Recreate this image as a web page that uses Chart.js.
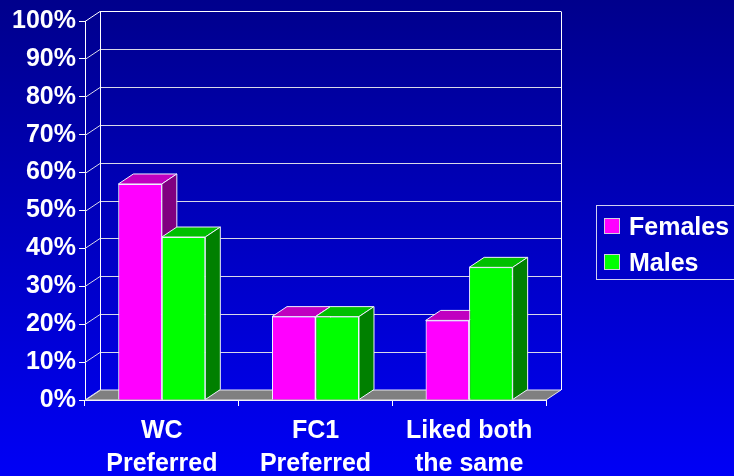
<!DOCTYPE html>
<html>
<head>
<meta charset="utf-8">
<script src="https://cdn.jsdelivr.net/npm/chart.js@4.4.0/dist/chart.umd.min.js"></script>
<style>
  html, body { margin: 0; padding: 0; }
  body {
    width: 734px; height: 476px; overflow: hidden;
    background: linear-gradient(to bottom, #00008c, #0000f6);
  }
</style>
</head>
<body>
<canvas id="grafico" width="734" height="476"></canvas>
<script>
const categorias = [["WC", "Preferred"], ["FC1", "Preferred"], ["Liked both", "the same"]];
const femeas = [57, 22, 21];
const machos = [43, 22, 35];
const serieNomes = ["Females", "Males"];

// profundidade do efeito 3D
const DX = 15, DY = -10;
const FONTE = "'Liberation Sans', Arial, sans-serif";

const cores = [
  { frente: "#ff00ff", topo: "#c000c0", lado: "#800080" },
  { frente: "#00ff00", topo: "#00c000", lado: "#008000" }
];

const cena3d = {
  id: "cena3d",
  beforeDatasetsDraw(chart) {
    const { ctx, chartArea: a } = chart;
    const y = chart.scales.y;
    ctx.save();
    ctx.lineWidth = 1;

    // chao
    ctx.beginPath();
    ctx.moveTo(a.left, a.bottom);
    ctx.lineTo(a.right, a.bottom);
    ctx.lineTo(a.right + DX, a.bottom + DY);
    ctx.lineTo(a.left + DX, a.bottom + DY);
    ctx.closePath();
    ctx.fillStyle = "#808080";
    ctx.fill();
    ctx.strokeStyle = "#e8e8f0";
    ctx.stroke();

    // grade da parede de fundo + diagonais da parede lateral
    y.ticks.forEach(t => {
      const py = Math.round(y.getPixelForValue(t.value)) + 0.5;
      ctx.strokeStyle = t.value === 100 ? "#ffffff" : "#d8d8e8";
      ctx.beginPath();
      if (t.value > 0) {
        ctx.moveTo(a.left + DX, py + DY);
        ctx.lineTo(a.right + DX, py + DY);
      }
      ctx.moveTo(a.left, py);
      ctx.lineTo(a.left + DX, py + DY);
      ctx.stroke();
    });

    const pTop = Math.round(y.getPixelForValue(100)) + 0.5 + DY;
    const pBot = Math.round(a.bottom) + DY;
    ctx.strokeStyle = "#ffffff";
    ctx.beginPath();
    ctx.moveTo(a.left + DX + 0.5, pTop);
    ctx.lineTo(a.left + DX + 0.5, pBot);
    ctx.moveTo(a.right + DX + 0.5, pTop);
    ctx.lineTo(a.right + DX + 0.5, pBot);
    ctx.stroke();
    ctx.restore();
  },
  afterDatasetsDraw(chart) {
    // redesenha as frentes na ordem certa e acrescenta topo e lado
    const { ctx } = chart;
    chart.data.datasets.forEach((ds, i) => {
      const c = cores[i];
      chart.getDatasetMeta(i).data.forEach(el => {
        el.draw(ctx, chart.chartArea);
        const l = el.x - el.width / 2, r = el.x + el.width / 2;
        const t = el.y, b = el.base;
        ctx.save();
        ctx.lineWidth = 1;
        ctx.strokeStyle = "#f0f0ff";
        // topo
        ctx.beginPath();
        ctx.moveTo(l, t);
        ctx.lineTo(r, t);
        ctx.lineTo(r + DX, t + DY);
        ctx.lineTo(l + DX, t + DY);
        ctx.closePath();
        ctx.fillStyle = c.topo;
        ctx.fill();
        ctx.stroke();
        // lado
        ctx.beginPath();
        ctx.moveTo(r, t);
        ctx.lineTo(r + DX, t + DY);
        ctx.lineTo(r + DX, b + DY);
        ctx.lineTo(r, b);
        ctx.closePath();
        ctx.fillStyle = c.lado;
        ctx.fill();
        ctx.stroke();
        ctx.restore();
      });
    });
  },
  afterDraw(chart) {
    // legenda com moldura
    const { ctx } = chart;
    ctx.save();
    ctx.strokeStyle = "#d0d0f0";
    ctx.lineWidth = 1;
    ctx.strokeRect(596.5, 205.5, 160, 74);
    ctx.font = "bold 25px " + FONTE;
    ctx.textBaseline = "alphabetic";
    chart.data.datasets.forEach((ds, i) => {
      const yy = 218 + i * 36;
      ctx.fillStyle = ds.backgroundColor;
      ctx.fillRect(604, yy, 16, 16);
      ctx.strokeStyle = "#d0d0e0";
      ctx.strokeRect(604.5, yy + 0.5, 15, 15);
      ctx.fillStyle = "#ffffff";
      ctx.fillText(ds.label, 629, yy + 17);
    });
    ctx.restore();
  }
};

new Chart(document.getElementById("grafico"), {
  type: "bar",
  data: {
    labels: categorias,
    datasets: [
      { label: serieNomes[0], data: femeas, backgroundColor: cores[0].frente, borderColor: "#f0f0ff", borderWidth: 1 },
      { label: serieNomes[1], data: machos, backgroundColor: cores[1].frente, borderColor: "#f0f0ff", borderWidth: 1 }
    ]
  },
  options: {
    responsive: false,
    animation: false,
    events: [],
    layout: { padding: { top: 21, right: 188, left: 0, bottom: 0 } },
    datasets: { bar: { categoryPercentage: 0.566, barPercentage: 1.0 } },
    plugins: { legend: { display: false }, tooltip: { enabled: false } },
    scales: {
      x: {
        grid: { drawOnChartArea: false, tickLength: 6, color: "#ffffff", offset: true },
        border: { color: "#ffffff", width: 1 },
        ticks: {
          color: "#ffffff", padding: 9, maxRotation: 0, autoSkip: false,
          font: { family: FONTE, size: 25, weight: "bold", lineHeight: 1.3 }
        },
        afterFit: s => { s.height = 76; }
      },
      y: {
        min: 0, max: 100,
        grid: { drawOnChartArea: false, tickLength: 6, color: "#ffffff" },
        border: { color: "#ffffff", width: 1 },
        ticks: {
          stepSize: 10, color: "#ffffff", padding: 3,
          font: { family: FONTE, size: 25, weight: "bold" },
          callback: v => v + "%"
        },
        afterFit: s => { s.width = 85; }
      }
    }
  },
  plugins: [cena3d]
});
</script>
</body>
</html>
